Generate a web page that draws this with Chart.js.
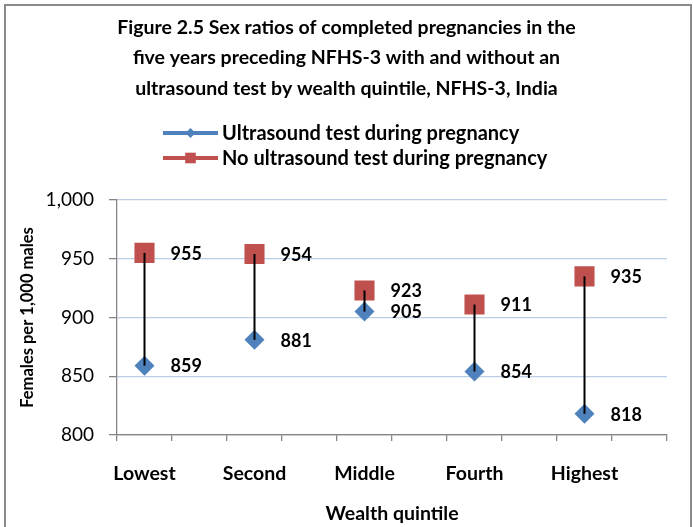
<!DOCTYPE html>
<html>
<head>
<meta charset="utf-8">
<script src="https://cdn.jsdelivr.net/npm/chart.js@4/dist/chart.umd.min.js"></script>
<style>
  html, body { margin: 0; padding: 0; background: #fff; overflow: hidden; }
  #wrap { position: relative; width: 693px; height: 527px; }
  #frame { position: absolute; left: 4px; top: 4px; width: 684px; height: 560px; border: 2px solid #8a8a8a; pointer-events: none; }
</style>
</head>
<body>
<div id="wrap"><canvas id="chart"></canvas><div id="frame"></div></div>
<script>
const titleLines = [
  'Figure 2.5 Sex ratios of completed pregnancies in the',
  'five years preceding NFHS-3 with and without an',
  'ultrasound test by wealth quintile, NFHS-3, India',
];
const categories = ['Lowest', 'Second', 'Middle', 'Fourth', 'Highest'];
const seriesNames = ['Ultrasound test during pregnancy', 'No ultrasound test during pregnancy'];
const withUltrasound = [859, 881, 905, 854, 818];
const withoutUltrasound = [955, 954, 923, 911, 935];
const yTicks = [800, 850, 900, 950, 1000];

const BLUE = '#4F81BD';
const RED = '#C0504D';
const AXIS = '#868686';
const GRID = '#B9CDE5';
const FAMILY = "Lato, 'Open Sans', sans-serif";

Chart.defaults.font.family = FAMILY;
Chart.defaults.color = '#000';

// Each quintile sits in every other slot, like the Excel original
const axisLabels = categories.flatMap(c => [c, '']);
const toPoints = values => categories.map((c, i) => ({ x: c, y: values[i] }));

/** Black drop lines between the pair of markers, then the value labels. */
const dropLinesAndLabels = {
  id: 'dropLinesAndLabels',
  afterDatasetsDraw(chart) {
    const { ctx } = chart;
    const lower = chart.getDatasetMeta(0).data;
    const upper = chart.getDatasetMeta(1).data;
    ctx.save();
    ctx.strokeStyle = '#000';
    ctx.lineWidth = 2;
    lower.forEach((pt, i) => {
      ctx.beginPath();
      ctx.moveTo(upper[i].x, upper[i].y);
      ctx.lineTo(pt.x, pt.y);
      ctx.stroke();
    });
    ctx.font = `bold 18px ${FAMILY}`;
    ctx.fillStyle = '#000';
    ctx.textAlign = 'left';
    ctx.textBaseline = 'middle';
    [0, 1].forEach(d => {
      const values = chart.data.datasets[d].data;
      chart.getDatasetMeta(d).data.forEach((pt, i) => {
        ctx.fillText(String(values[i].y), pt.x + 26, pt.y + 1);
      });
    });
    ctx.restore();
  },
};

/** Legend: two left-aligned rows, line with marker, drawn in the space below the title. */
const stackedLegend = {
  id: 'stackedLegend',
  afterDraw(chart) {
    const { ctx } = chart;
    const left = 163, lineLen = 55, rows = [133, 158];
    const markers = [
      { pointStyle: 'rectRot', radius: 5, borderWidth: 0 },
      { pointStyle: 'rect', radius: 7.5, borderWidth: 0 },
    ];
    ctx.save();
    chart.data.datasets.forEach((ds, i) => {
      const y = rows[i];
      ctx.strokeStyle = ds.pointBackgroundColor;
      ctx.fillStyle = ds.pointBackgroundColor;
      ctx.lineWidth = 4;
      ctx.beginPath();
      ctx.moveTo(left, y);
      ctx.lineTo(left + lineLen, y);
      ctx.stroke();
      Chart.helpers.drawPoint(ctx, markers[i], left + lineLen / 2, y);
      ctx.fillStyle = '#000';
      ctx.font = `bold 20px ${FAMILY}`;
      ctx.textAlign = 'left';
      ctx.textBaseline = 'middle';
      ctx.fillText(ds.label, left + lineLen + 4, y + 1);
    });
    ctx.restore();
  },
};

new Chart(document.getElementById('chart'), {
  type: 'line',
  data: {
    labels: axisLabels,
    datasets: [
      {
        label: seriesNames[0],
        data: toPoints(withUltrasound),
        showLine: false,
        pointStyle: 'rectRot',
        pointRadius: 10,
        pointHoverRadius: 10,
        pointBackgroundColor: BLUE,
        pointBorderColor: BLUE,
        pointBorderWidth: 0,
      },
      {
        label: seriesNames[1],
        data: toPoints(withoutUltrasound),
        showLine: false,
        pointStyle: 'rect',
        pointRadius: 14.2,
        pointHoverRadius: 14.2,
        pointBackgroundColor: RED,
        pointBorderColor: RED,
        pointBorderWidth: 0,
      },
    ],
  },
  options: {
    responsive: true,
    maintainAspectRatio: false,
    animation: false,
    layout: { padding: 0 },
    scales: {
      x: {
        offset: true,
        grid: { offset: true, drawOnChartArea: false, tickLength: 6, tickColor: AXIS, lineWidth: 1.3 },
        border: { color: AXIS, width: 1.3 },
        ticks: { autoSkip: false, maxRotation: 0, padding: 21, font: { size: 19.5, weight: 'bold' } },
        title: { display: true, text: 'Wealth quintile', font: { size: 19.5, weight: 'bold' }, padding: { top: 4, bottom: 2 } },
        afterFit: s => { s.height = 92; },
      },
      y: {
        min: yTicks[0],
        max: yTicks[yTicks.length - 1],
        afterBuildTicks: s => { s.ticks = yTicks.map(value => ({ value })); },
        ticks: { padding: 15, font: { size: 19 }, callback: v => v.toLocaleString('en-US') },
        grid: { color: c => (c.tick && c.tick.value === yTicks[0] ? AXIS : GRID), tickColor: AXIS, tickLength: 8, lineWidth: 1.3 },
        border: { color: AXIS, width: 1.3 },
        title: { display: true, text: 'Females per 1,000 males', font: { size: 16.5, weight: 'bold' }, padding: { top: 18, bottom: 0 } },
        afterFit: s => { s.width = 117; },
      },
      // empty right-hand axis that keeps the plot clear of the frame
      spacer: {
        type: 'linear',
        position: 'right',
        display: true,
        grid: { display: false },
        border: { display: false },
        ticks: { display: false },
        afterFit: s => { s.width = 26; },
      },
    },
    plugins: {
      legend: { display: false },
      tooltip: { enabled: false },
      title: {
        display: true,
        text: titleLines,
        font: { size: 19.5, weight: 'bold', lineHeight: 1.569 },
        color: '#000',
        padding: { top: 12, bottom: 96.2 },
      },
    },
  },
  plugins: [dropLinesAndLabels, stackedLegend],
});
</script>
</body>
</html>
